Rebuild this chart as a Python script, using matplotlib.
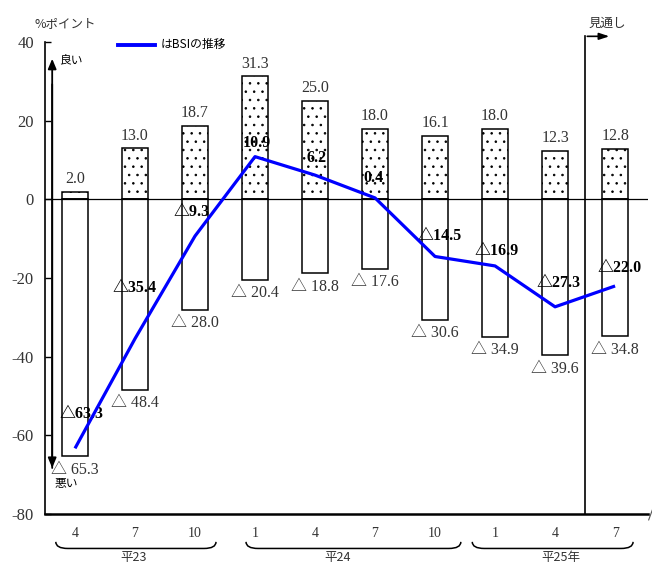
import numpy as np
import matplotlib
matplotlib.use('Agg')
import matplotlib.pyplot as plt
from matplotlib.path import Path
from matplotlib.patches import PathPatch
from matplotlib import transforms

plt.rcParams['hatch.linewidth'] = 0.6
plt.rcParams['axes.unicode_minus'] = False

JP = ['Noto Sans CJK JP', 'DejaVu Sans']
# Liberation Serif has no white triangle, so it comes from the CJK font
NUM = ['Liberation Serif', 'Noto Sans CJK JP']

# data
months = ['4', '7', '10', '1', '4', '7', '10', '1', '4', '7']
years = ['平23', '平24', '平25年']
good = [2.0, 13.0, 18.7, 31.3, 25.0, 18.0, 16.1, 18.0, 12.3, 12.8]
bad = [-65.3, -48.4, -28.0, -20.4, -18.8, -17.6, -30.6, -34.9, -39.6, -34.8]
bsi = [-63.3, -35.4, -9.3, 10.9, 6.2, 0.4, -14.5, -16.9, -27.3, -22.0]

# where the bold BSI labels sit (layout only)
bsi_lab_dx = [0.1, 0.0, -0.05, 0.03, 0.03, -0.02, 0.08, 0.03, 0.05, 0.07]
bsi_lab_y = [-54.6, -22.6, -3.2, 14.3, 10.5, 5.4, -9.3, -13.1, -21.2, -17.5]

fig = plt.figure(figsize=(6.52, 5.63), dpi=100)
ax = fig.add_axes([0.069, 0.087, 0.925, 0.838])

x = np.arange(len(months))
w = 0.42
ax.bar(x, good, w, color='white', edgecolor='black', hatch='..', lw=1.1, zorder=2)
ax.bar(x, bad, w, color='white', edgecolor='black', lw=1.1, zorder=2)
ax.axhline(0, color='black', lw=0.9, zorder=3)
ax.plot(x, bsi, color='#0000ff', lw=2.3, zorder=5, solid_capstyle='butt')

for xi, v in zip(x, good):
    ax.annotate('%.1f' % v, (xi, v), xytext=(0, 3.5), textcoords='offset points',
                ha='center', va='bottom', fontsize=11.5, family=NUM, color='#333333')
for xi, v in zip(x, bad):
    ax.annotate('△ %.1f' % -v, (xi, v), xytext=(0, -4), textcoords='offset points',
                ha='center', va='top', fontsize=11.5, family=NUM, color='#333333')
for xi, v, dx, ly in zip(x, bsi, bsi_lab_dx, bsi_lab_y):
    s = '%.1f' % v if v >= 0 else '△%.1f' % -v
    ax.text(xi + dx, ly, s, ha='center', va='center', fontsize=11.5,
            family=NUM, fontweight='bold', color='black', zorder=4)

ax.set_xlim(-0.5, 9.55)
ax.set_ylim(-80, 40)
ax.set_yticks([40, 20, 0, -20, -40, -60, -80])
ax.tick_params(axis='y', direction='in', length=4, width=1, labelsize=12, pad=8)
for t in ax.get_yticklabels():
    t.set_family(NUM)
    t.set_color('#333333')
ax.set_xticks(x, months)
ax.tick_params(axis='x', length=0, pad=9, labelsize=10)
for t in ax.get_xticklabels():
    t.set_family(NUM)
    t.set_color('#333333')
for s in ['top', 'right']:
    ax.spines[s].set_visible(False)
ax.spines['left'].set_linewidth(1.2)
ax.spines['bottom'].set_linewidth(1.8)
ax.plot([9.56, 9.62], [-81.5, -79], color='#555555', lw=0.8, clip_on=False)

# good / bad arrow
ax.annotate('', xy=(-0.38, 36.5), xytext=(-0.38, -69), arrowprops=dict(
    arrowstyle='-|>,head_width=0.25,head_length=0.6', color='black', lw=1.3))
ax.annotate('', xy=(-0.38, -69), xytext=(-0.38, 30), arrowprops=dict(
    arrowstyle='-|>,head_width=0.25,head_length=0.6', color='black', lw=1.3))
ax.text(-0.27, 35.5, '良い', family=JP, fontsize=8.5, va='center')
ax.text(-0.15, -72.2, '悪い', family=JP, fontsize=8.5, va='center', ha='center')

# legend
ax.plot([0.72, 1.33], [39.3, 39.3], color='#0000ff', lw=2.8, clip_on=False)
ax.text(1.42, 39.3, 'はBSIの推移', family=JP, fontsize=8.5, va='center')

# forecast marker
ax.plot([8.5, 8.5], [-80, 41.5], color='black', lw=1.2, clip_on=False)
ax.annotate('', xy=(8.95, 41.5), xytext=(8.49, 41.5), annotation_clip=False,
            arrowprops=dict(arrowstyle='-|>,head_width=0.2,head_length=0.6',
                            color='black', lw=1.2))
ax.text(8.87, 44.8, '見通し', family=JP, fontsize=9, ha='center', va='center',
        color='#333333')
ax.text(-0.17, 44.8, '%ポイント', family=JP, fontsize=9, ha='center', va='center',
        color='#333333')

# year braces under the month labels
trans = transforms.blended_transform_factory(ax.transData, ax.transAxes)
spans = [(-0.32, 2.35), (2.85, 6.43), (6.62, 9.3)]
centers = [0.97, 4.38, 8.1]
top, bot = -0.059, -0.073
for (x0, x1), xc, lab in zip(spans, centers, years):
    r = 0.2
    verts = [(x0, top), (x0, bot), (x0 + r, bot), (x1 - r, bot),
             (x1, bot), (x1, top)]
    codes = [Path.MOVETO, Path.CURVE3, Path.CURVE3, Path.LINETO,
             Path.CURVE3, Path.CURVE3]
    ax.add_patch(PathPatch(Path(verts, codes), fill=False, lw=1.1,
                           transform=trans, clip_on=False))
    ax.text(xc, -0.092, lab, family=JP, fontsize=9, ha='center', va='center',
            transform=trans, color='#333333')

plt.savefig('out.png', dpi=100)
